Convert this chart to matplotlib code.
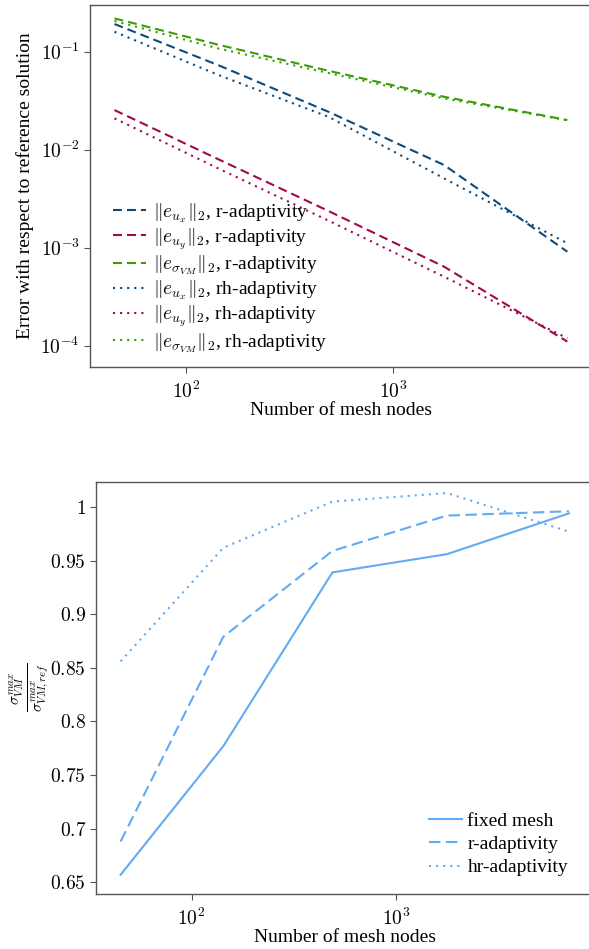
import matplotlib
matplotlib.use("Agg")
import matplotlib.pyplot as plt
from matplotlib.ticker import FixedLocator, FuncFormatter, NullLocator
import numpy as np

plt.rcParams['font.family'] = ['Liberation Serif', 'DejaVu Serif']
plt.rcParams['mathtext.fontset'] = 'cm'
plt.rcParams['font.size'] = 14

# mesh sizes (shared by both panels)
nodes = [45, 143, 488, 1770, 6986]

# top panel: error norms
err_ux_r = [0.192, 0.073, 0.0244, 0.00698, 0.00091]
err_uy_r = [0.0254, 0.0080, 0.00237, 0.00064, 0.00011]
err_vm_r = [0.219, 0.118, 0.064, 0.0347, 0.0201]
err_ux_rh = [0.160, 0.058, 0.0217, 0.0051, 0.00111]
err_uy_rh = [0.0209, 0.00645, 0.00189, 0.000506, 0.000119]
err_vm_rh = [0.206, 0.108, 0.0607, 0.0334, 0.0200]

# bottom panel: normalised max von Mises stress
ratio_fixed = [0.657, 0.777, 0.939, 0.956, 0.994]
ratio_r = [0.688, 0.879, 0.959, 0.992, 0.996]
ratio_hr = [0.856, 0.962, 1.005, 1.013, 0.977]

c_blue = '#0d4a7c'
c_red = '#a0074f'
c_green = '#3c9c06'
c_light = '#63aaf4'

dash = (4.3, 2.4)
dot = (1, 2.4)

fig = plt.figure(figsize=(5.89, 9.49), dpi=100)

# ---------------- top
ax1 = fig.add_axes([0.153, 0.6136, 0.8515, 0.3811])
ax1.plot(nodes, err_ux_r, color=c_blue, lw=1.5, dashes=dash, label=r'$\|e_{u_x}\|_2$, r-adaptivity')
ax1.plot(nodes, err_uy_r, color=c_red, lw=1.5, dashes=dash, label=r'$\|e_{u_y}\|_2$, r-adaptivity')
ax1.plot(nodes, err_vm_r, color=c_green, lw=1.5, dashes=dash, label=r'$\|e_{\sigma_{VM}}\|_2$, r-adaptivity')
ax1.plot(nodes, err_ux_rh, color=c_blue, lw=1.5, dashes=dot, label=r'$\|e_{u_x}\|_2$, rh-adaptivity')
ax1.plot(nodes, err_uy_rh, color=c_red, lw=1.5, dashes=dot, label=r'$\|e_{u_y}\|_2$, rh-adaptivity')
ax1.plot(nodes, err_vm_rh, color=c_green, lw=1.5, dashes=dot, label=r'$\|e_{\sigma_{VM}}\|_2$, rh-adaptivity')
ax1.set_xscale('log')
ax1.set_yscale('log')
ax1.set_xlim(34.3, 9160)
ax1.set_ylim(6.1e-5, 0.30)
ax1.yaxis.set_major_locator(FixedLocator([1e-4, 1e-3, 1e-2, 1e-1]))
ax1.yaxis.set_minor_locator(NullLocator())
ax1.yaxis.set_major_formatter(FuncFormatter(lambda v, p: r'$10^{%d}$' % round(np.log10(v))))
ax1.set_ylabel('Error with respect to reference solution')
ax1.yaxis.set_label_coords(-0.112, 0.5)
ax1.set_xlabel('Number of mesh nodes', labelpad=0)
ax1.legend(loc='lower left', frameon=False, fontsize=14, handlelength=1.7,
           handletextpad=0.4, labelspacing=0.08, borderaxespad=0.5,
           bbox_to_anchor=(0.01, -0.015))

# ---------------- bottom
ax2 = fig.add_axes([0.1638, 0.0580, 0.8430, 0.4341])
ax2.plot(nodes, ratio_fixed, color=c_light, lw=1.5, label='fixed mesh')
ax2.plot(nodes, ratio_r, color=c_light, lw=1.5, dashes=(5.5, 2.6), label='r-adaptivity')
ax2.plot(nodes, ratio_hr, color=c_light, lw=1.5, dashes=dot, label='hr-adaptivity')
ax2.set_xscale('log')
ax2.set_xlim(34.3, 9160)
ax2.set_ylim(0.6391, 1.0233)
ax2.yaxis.set_major_locator(FixedLocator([0.65, 0.7, 0.75, 0.8, 0.85, 0.9, 0.95, 1.0]))
ax2.yaxis.set_major_formatter(FuncFormatter(lambda v, p: r'$%g$' % round(v, 2)))
ax2.set_ylabel(r'$\frac{\sigma_{VM}^{max}}{\sigma_{VM,ref}^{max}}$', fontsize=16)
ax2.yaxis.set_label_coords(-0.092, 0.5)
ax2.set_xlabel('Number of mesh nodes', labelpad=0)
ax2.legend(loc='lower right', frameon=False, fontsize=14, handlelength=1.7,
           handletextpad=0.3, labelspacing=0.3, borderaxespad=0.5,
           bbox_to_anchor=(0.985, 0.0))

for ax in (ax1, ax2):
    ax.xaxis.set_major_locator(FixedLocator([100, 1000]))
    ax.xaxis.set_minor_locator(NullLocator())
    ax.xaxis.set_major_formatter(FuncFormatter(lambda v, p: r'$10^{%d}$' % round(np.log10(v))))
    for s in ax.spines.values():
        s.set_color('#555555')
        s.set_linewidth(1.0)
    ax.spines['right'].set_visible(False)
    ax.tick_params(direction='out', length=4, width=0.8, color='#555555', labelsize=14)
    ax.tick_params(axis='x', pad=6)

fig.savefig('out.png', dpi=100)
